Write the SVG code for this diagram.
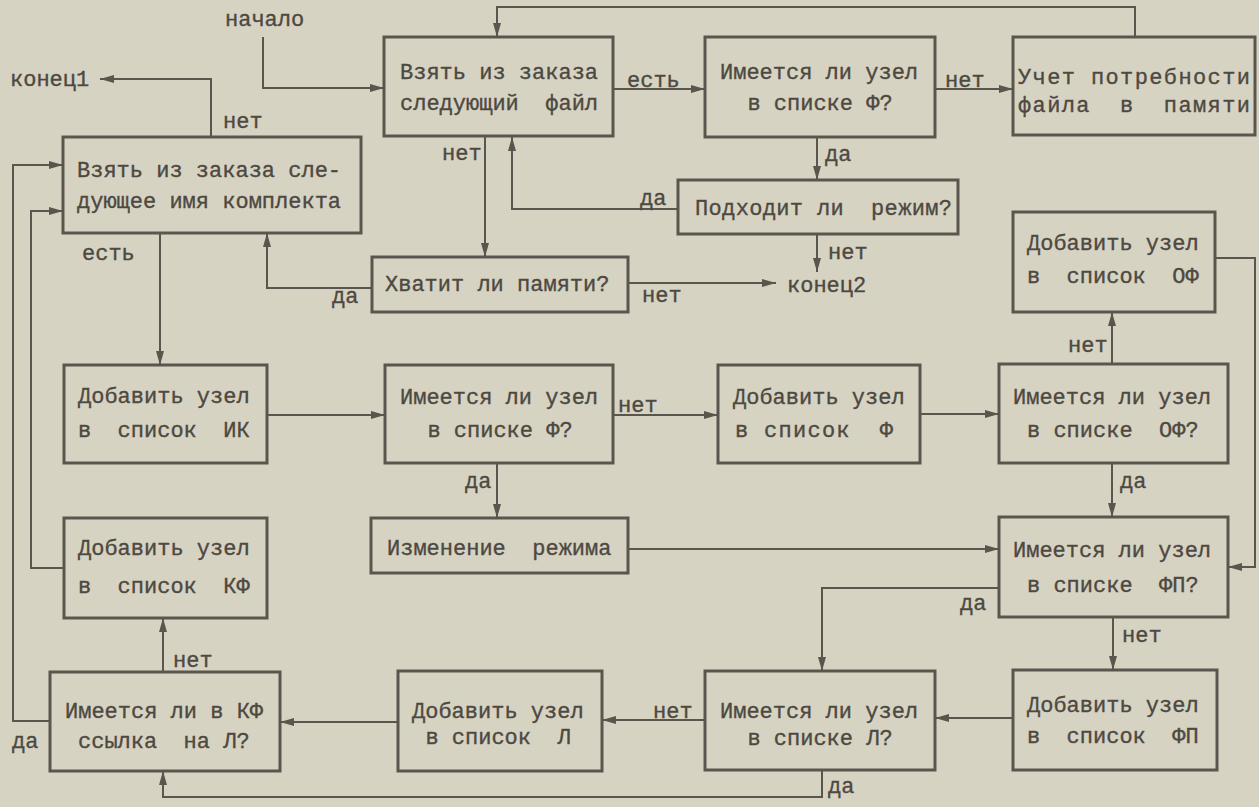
<svg xmlns="http://www.w3.org/2000/svg" width="1259" height="807" viewBox="0 0 1259 807" xml:space="preserve">
<defs>
<style>
.box{fill:none;stroke:#5a564d;stroke-width:3}
.c{fill:none;stroke:#5a564d;stroke-width:2;marker-end:url(#ah)}
text{font-family:"Liberation Mono","DejaVu Sans Mono",monospace;font-size:22px;fill:#4d4941;stroke:#4d4941;stroke-width:0.35;white-space:pre}
</style>
<marker id="ah" markerUnits="userSpaceOnUse" markerWidth="14" markerHeight="8" refX="14" refY="4" orient="auto">
<path d="M0,0 L14,4 L0,8 z" fill="#5a564d"/>
</marker>
</defs>
<rect x="0" y="0" width="1259" height="807" fill="#d7d3c3"/>

<g id="connectors">
<path class="c" d="M263,37 V88 H384"/>
<path class="c" d="M211,137 V79 H100"/>
<path class="c" d="M613,89 H705"/>
<path class="c" d="M935,89 H1013"/>
<path class="c" d="M1135,37 V7 H497 V37"/>
<path class="c" d="M817,137 V180"/>
<path class="c" d="M678,209 H512 V137"/>
<path class="c" d="M817,234 V272"/>
<path class="c" d="M485,137 V257"/>
<path class="c" d="M372,288 H267 V233"/>
<path class="c" d="M628,283 H776"/>
<path class="c" d="M160,233 V365"/>
<path class="c" d="M267,415 H385"/>
<path class="c" d="M613,415 H718"/>
<path class="c" d="M920,414 H999"/>
<path class="c" d="M1112,364 V312"/>
<path class="c" d="M1215,258 H1255 V567 H1228"/>
<path class="c" d="M1112,463 V517"/>
<path class="c" d="M497,463 V518"/>
<path class="c" d="M628,549 H999"/>
<path class="c" d="M999,588 H822 V671"/>
<path class="c" d="M1113,617 V670"/>
<path class="c" d="M1013,718 H935"/>
<path class="c" d="M705,720 H602"/>
<path class="c" d="M398,722 H280"/>
<path class="c" d="M822,770 V797 H163 V771"/>
<path class="c" d="M163,672 V618"/>
<path class="c" d="M50,721 H13 V165 H63"/>
<path class="c" d="M64,568 H31 V211 H63"/>
</g>

<g id="labels">
<text x="225" y="26">начало</text>
<text x="10" y="86">конец1</text>
<text x="223" y="128">нет</text>
<text x="627" y="87">есть</text>
<text x="945" y="87">нет</text>
<text x="442" y="160">нет</text>
<text x="825" y="161">да</text>
<text x="640" y="205">да</text>
<text x="82" y="260">есть</text>
<text x="828" y="259">нет</text>
<text x="787" y="292">конец2</text>
<text x="332" y="303">да</text>
<text x="642" y="302">нет</text>
<text x="618" y="412">нет</text>
<text x="1068" y="352">нет</text>
<text x="1120" y="488">да</text>
<text x="465" y="488">да</text>
<text x="960" y="610">да</text>
<text x="1122" y="642">нет</text>
<text x="653" y="718">нет</text>
<text x="828" y="793">да</text>
<text x="173" y="667">нет</text>
<text x="12" y="748">да</text>
</g>

<g id="n1"><rect class="box" x="384" y="37" width="229" height="99"/>
<text x="400" y="79">Взять из заказа</text><text x="400" y="110">следующий  файл</text></g>
<g id="n2"><rect class="box" x="705" y="37" width="230" height="100"/>
<text x="720" y="79">Имеется ли узел</text><text x="820" y="110" text-anchor="middle">в списке Ф?</text></g>
<g id="n3"><rect class="box" x="1013" y="37" width="242" height="98"/>
<text x="1018" y="84" textLength="232">Учет потребности</text><text x="1018" y="112" textLength="232">файла  в  памяти</text></g>
<g id="n4"><rect class="box" x="63" y="137" width="298" height="96"/>
<text x="77" y="177">Взять из заказа сле-</text><text x="77" y="208">дующее имя комплекта</text></g>
<g id="n5"><rect class="box" x="678" y="180" width="280" height="54"/>
<text x="695" y="215" textLength="257">Подходит ли  режим?</text></g>
<g id="n6"><rect class="box" x="372" y="257" width="256" height="55"/>
<text x="385" y="291">Хватит ли памяти?</text></g>
<g id="n7"><rect class="box" x="1013" y="212" width="202" height="100"/>
<text x="1027" y="250">Добавить узел</text><text x="1027" y="283">в  список  ОФ</text></g>
<g id="n8"><rect class="box" x="64" y="365" width="203" height="98"/>
<text x="78" y="403">Добавить узел</text><text x="78" y="437">в  список  ИК</text></g>
<g id="n9"><rect class="box" x="385" y="365" width="228" height="98"/>
<text x="400" y="404">Имеется ли узел</text><text x="500" y="437" text-anchor="middle">в списке Ф?</text></g>
<g id="n10"><rect class="box" x="718" y="365" width="202" height="98"/>
<text x="733" y="404">Добавить узел</text><text x="735" y="437" textLength="158">в список  Ф</text></g>
<g id="n11"><rect class="box" x="999" y="364" width="229" height="99"/>
<text x="1013" y="404">Имеется ли узел</text><text x="1027" y="437">в списке  ОФ?</text></g>
<g id="n12"><rect class="box" x="371" y="518" width="257" height="55"/>
<text x="387" y="555">Изменение  режима</text></g>
<g id="n13"><rect class="box" x="64" y="518" width="203" height="100"/>
<text x="78" y="555">Добавить узел</text><text x="78" y="593">в  список  КФ</text></g>
<g id="n14"><rect class="box" x="999" y="517" width="229" height="100"/>
<text x="1013" y="557">Имеется ли узел</text><text x="1027" y="592">в списке  ФП?</text></g>
<g id="n15"><rect class="box" x="50" y="672" width="230" height="99"/>
<text x="65" y="718">Имеется ли в КФ</text><text x="78" y="748">ссылка  на Л?</text></g>
<g id="n16"><rect class="box" x="398" y="671" width="204" height="100"/>
<text x="412" y="718">Добавить узел</text><text x="498" y="744" text-anchor="middle">в список  Л</text></g>
<g id="n17"><rect class="box" x="705" y="671" width="230" height="99"/>
<text x="720" y="718">Имеется ли узел</text><text x="820" y="745" text-anchor="middle">в списке Л?</text></g>
<g id="n18"><rect class="box" x="1013" y="670" width="204" height="100"/>
<text x="1027" y="712">Добавить узел</text><text x="1027" y="743">в  список  ФП</text></g>
</svg>
